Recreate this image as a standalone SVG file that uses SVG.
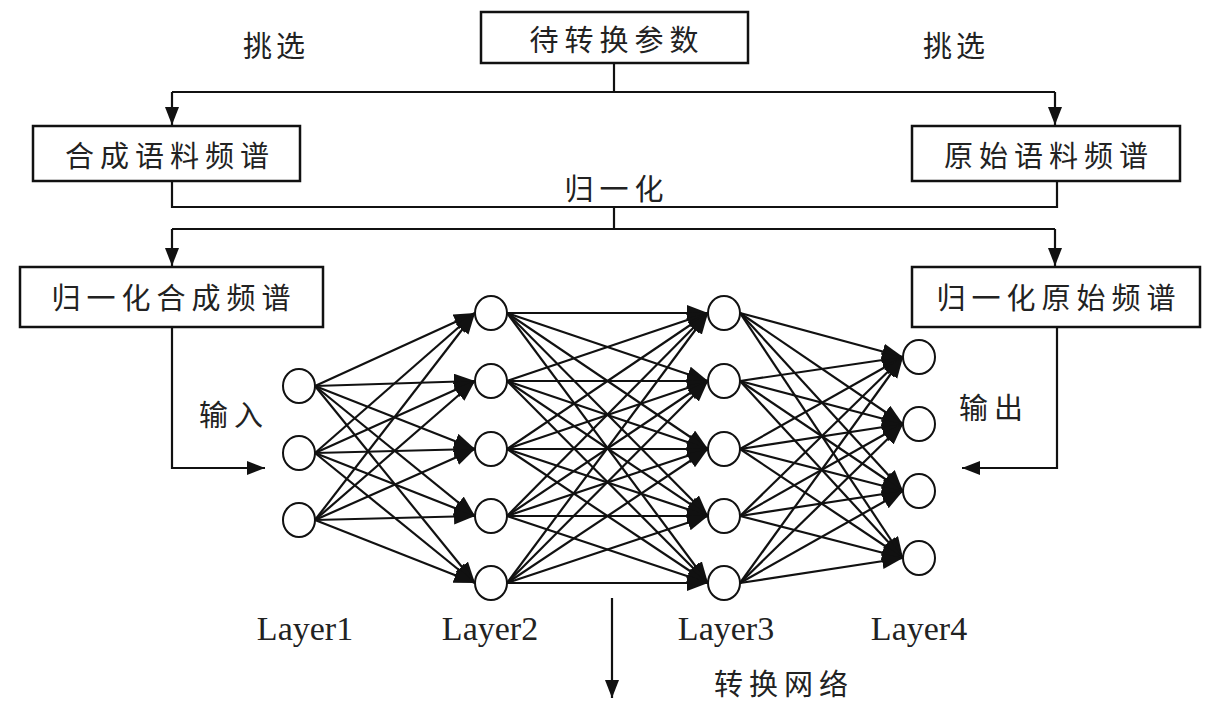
<svg xmlns="http://www.w3.org/2000/svg" width="1207" height="706" viewBox="0 0 1207 706">
  <style>
    .box { fill: #fff; stroke: #111; stroke-width: 2.5; }
    .node { fill: #fff; stroke: #111; stroke-width: 2; }
    .wire { fill: none; stroke: #111; stroke-width: 2.2; }
    .edge { stroke: #111; stroke-width: 2.2; marker-end: url(#tip); }
    .net { stroke: #111; stroke-width: 2.2; marker-end: url(#bigtip); }
    .cn { font-family: "Noto Sans CJK SC", "Noto Sans", sans-serif; font-size: 29px; fill: #222; text-anchor: middle; dominant-baseline: central; letter-spacing: 6px; }
    .lay { font-family: "Liberation Serif", serif; font-size: 34px; fill: #222; text-anchor: middle; }
  </style>
  <defs>
    <marker id="tip" markerUnits="userSpaceOnUse" markerWidth="20" markerHeight="16" refX="18" refY="7" orient="auto">
      <path d="M0,0 L18,7 L0,14 z" fill="#111"/>
    </marker>
    <marker id="bigtip" markerUnits="userSpaceOnUse" markerWidth="24" markerHeight="18" refX="21" refY="8" orient="auto">
      <path d="M0,0 L21,8 L0,16 z" fill="#111"/>
    </marker>
  </defs>
  <rect width="1207" height="706" fill="#fff"/>

  <!-- flow connectors -->
  <g id="connectors">
    <polyline class="wire" points="614,63 614,92"/>
    <polyline class="wire" points="172,92 1055,92"/>
    <line class="edge" x1="172" y1="92" x2="172" y2="125"/>
    <line class="edge" x1="1055" y1="92" x2="1055" y2="125"/>
    <polyline class="wire" points="172,181 172,207 1057,207 1057,181"/>
    <polyline class="wire" points="614,207 614,229"/>
    <polyline class="wire" points="172,229 1055,229"/>
    <line class="edge" x1="172" y1="229" x2="172" y2="266"/>
    <line class="edge" x1="1055" y1="229" x2="1055" y2="266"/>
    <polyline class="wire" points="172,327 172,468 200,468"/>
    <line class="edge" x1="190" y1="468" x2="265" y2="468"/>
    <polyline class="wire" points="1057,327 1057,468 1030,468"/>
    <line class="edge" x1="1040" y1="468" x2="962" y2="468"/>
    <line class="edge" x1="612" y1="598" x2="612" y2="698"/>

    <!-- Layer1 to Layer2 -->
    <g id="l1-l2">
      <line class="net" x1="315" y1="386" x2="475" y2="313"/>
      <line class="net" x1="315" y1="386" x2="475" y2="381"/>
      <line class="net" x1="315" y1="386" x2="475" y2="449"/>
      <line class="net" x1="315" y1="386" x2="475" y2="516"/>
      <line class="net" x1="315" y1="386" x2="475" y2="583"/>
      <line class="net" x1="315" y1="453" x2="475" y2="313"/>
      <line class="net" x1="315" y1="453" x2="475" y2="381"/>
      <line class="net" x1="315" y1="453" x2="475" y2="449"/>
      <line class="net" x1="315" y1="453" x2="475" y2="516"/>
      <line class="net" x1="315" y1="453" x2="475" y2="583"/>
      <line class="net" x1="315" y1="520" x2="475" y2="313"/>
      <line class="net" x1="315" y1="520" x2="475" y2="381"/>
      <line class="net" x1="315" y1="520" x2="475" y2="449"/>
      <line class="net" x1="315" y1="520" x2="475" y2="516"/>
      <line class="net" x1="315" y1="520" x2="475" y2="583"/>
    </g>
    <!-- Layer2 to Layer3 -->
    <g id="l2-l3">
      <line class="net" x1="507" y1="313" x2="708" y2="313"/>
      <line class="net" x1="507" y1="313" x2="708" y2="381"/>
      <line class="net" x1="507" y1="313" x2="708" y2="449"/>
      <line class="net" x1="507" y1="313" x2="708" y2="516"/>
      <line class="net" x1="507" y1="313" x2="708" y2="583"/>
      <line class="net" x1="507" y1="381" x2="708" y2="313"/>
      <line class="net" x1="507" y1="381" x2="708" y2="381"/>
      <line class="net" x1="507" y1="381" x2="708" y2="449"/>
      <line class="net" x1="507" y1="381" x2="708" y2="516"/>
      <line class="net" x1="507" y1="381" x2="708" y2="583"/>
      <line class="net" x1="507" y1="449" x2="708" y2="313"/>
      <line class="net" x1="507" y1="449" x2="708" y2="381"/>
      <line class="net" x1="507" y1="449" x2="708" y2="449"/>
      <line class="net" x1="507" y1="449" x2="708" y2="516"/>
      <line class="net" x1="507" y1="449" x2="708" y2="583"/>
      <line class="net" x1="507" y1="516" x2="708" y2="313"/>
      <line class="net" x1="507" y1="516" x2="708" y2="381"/>
      <line class="net" x1="507" y1="516" x2="708" y2="449"/>
      <line class="net" x1="507" y1="516" x2="708" y2="516"/>
      <line class="net" x1="507" y1="516" x2="708" y2="583"/>
      <line class="net" x1="507" y1="583" x2="708" y2="313"/>
      <line class="net" x1="507" y1="583" x2="708" y2="381"/>
      <line class="net" x1="507" y1="583" x2="708" y2="449"/>
      <line class="net" x1="507" y1="583" x2="708" y2="516"/>
      <line class="net" x1="507" y1="583" x2="708" y2="583"/>
    </g>
    <!-- Layer3 to Layer4 -->
    <g id="l3-l4">
      <line class="net" x1="740" y1="313" x2="903" y2="357"/>
      <line class="net" x1="740" y1="313" x2="903" y2="424"/>
      <line class="net" x1="740" y1="313" x2="903" y2="491"/>
      <line class="net" x1="740" y1="313" x2="903" y2="558"/>
      <line class="net" x1="740" y1="381" x2="903" y2="357"/>
      <line class="net" x1="740" y1="381" x2="903" y2="424"/>
      <line class="net" x1="740" y1="381" x2="903" y2="491"/>
      <line class="net" x1="740" y1="381" x2="903" y2="558"/>
      <line class="net" x1="740" y1="449" x2="903" y2="357"/>
      <line class="net" x1="740" y1="449" x2="903" y2="424"/>
      <line class="net" x1="740" y1="449" x2="903" y2="491"/>
      <line class="net" x1="740" y1="449" x2="903" y2="558"/>
      <line class="net" x1="740" y1="516" x2="903" y2="357"/>
      <line class="net" x1="740" y1="516" x2="903" y2="424"/>
      <line class="net" x1="740" y1="516" x2="903" y2="491"/>
      <line class="net" x1="740" y1="516" x2="903" y2="558"/>
      <line class="net" x1="740" y1="583" x2="903" y2="357"/>
      <line class="net" x1="740" y1="583" x2="903" y2="424"/>
      <line class="net" x1="740" y1="583" x2="903" y2="491"/>
      <line class="net" x1="740" y1="583" x2="903" y2="558"/>
    </g>
  </g>

  <!-- boxes -->
  <g id="params">
    <rect class="box" x="481" y="12" width="267" height="51"/>
    <text class="cn" x="617" y="38">待转换参数</text>
  </g>
  <g id="synth-spectrum">
    <rect class="box" x="33" y="126" width="267" height="55"/>
    <text class="cn" x="170" y="154">合成语料频谱</text>
  </g>
  <g id="orig-spectrum">
    <rect class="box" x="912" y="126" width="268" height="55"/>
    <text class="cn" x="1049" y="154">原始语料频谱</text>
  </g>
  <g id="norm-synth">
    <rect class="box" x="20" y="267" width="303" height="60"/>
    <text class="cn" x="174" y="296">归一化合成频谱</text>
  </g>
  <g id="norm-orig">
    <rect class="box" x="912" y="267" width="288" height="60"/>
    <text class="cn" x="1059" y="296">归一化原始频谱</text>
  </g>

  <!-- labels -->
  <g id="labels">
    <text class="cn" x="276" y="44" style="letter-spacing:4px">挑选</text>
    <text class="cn" x="956" y="44" style="letter-spacing:4px">挑选</text>
    <text class="cn" x="617" y="187">归一化</text>
    <text class="cn" x="234" y="413">输入</text>
    <text class="cn" x="994" y="406">输出</text>
    <text class="cn" x="784" y="682">转换网络</text>
    <text class="lay" x="305" y="640">Layer1</text>
    <text class="lay" x="490" y="640">Layer2</text>
    <text class="lay" x="726" y="640">Layer3</text>
    <text class="lay" x="919" y="640">Layer4</text>
  </g>

  <!-- neurons -->
  <g id="layer1">
    <ellipse class="node" cx="299" cy="386" rx="16" ry="17"/>
    <ellipse class="node" cx="299" cy="453" rx="16" ry="17"/>
    <ellipse class="node" cx="299" cy="520" rx="16" ry="17"/>
  </g>
  <g id="layer2">
    <ellipse class="node" cx="491" cy="313" rx="16" ry="17"/>
    <ellipse class="node" cx="491" cy="381" rx="16" ry="17"/>
    <ellipse class="node" cx="491" cy="449" rx="16" ry="17"/>
    <ellipse class="node" cx="491" cy="516" rx="16" ry="17"/>
    <ellipse class="node" cx="491" cy="583" rx="16" ry="17"/>
  </g>
  <g id="layer3">
    <ellipse class="node" cx="724" cy="313" rx="16" ry="17"/>
    <ellipse class="node" cx="724" cy="381" rx="16" ry="17"/>
    <ellipse class="node" cx="724" cy="449" rx="16" ry="17"/>
    <ellipse class="node" cx="724" cy="516" rx="16" ry="17"/>
    <ellipse class="node" cx="724" cy="583" rx="16" ry="17"/>
  </g>
  <g id="layer4">
    <ellipse class="node" cx="919" cy="357" rx="16" ry="17"/>
    <ellipse class="node" cx="919" cy="424" rx="16" ry="17"/>
    <ellipse class="node" cx="919" cy="491" rx="16" ry="17"/>
    <ellipse class="node" cx="919" cy="558" rx="16" ry="17"/>
  </g>
</svg>
